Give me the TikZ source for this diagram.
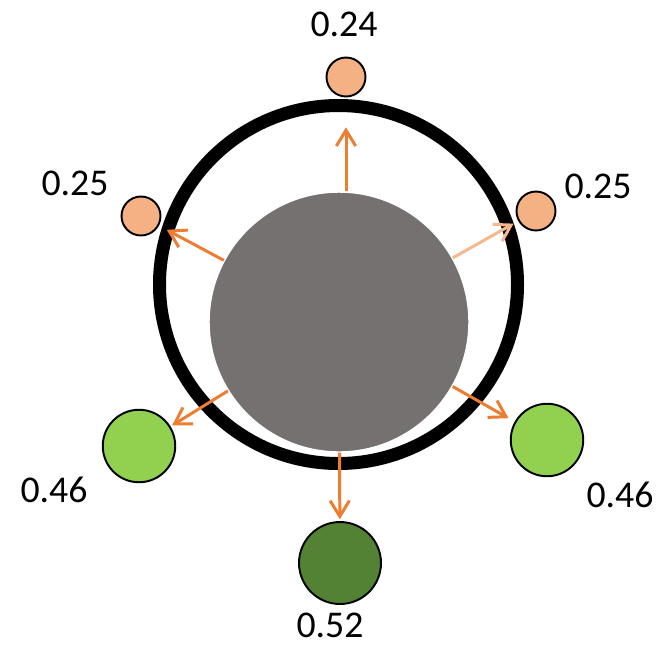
\documentclass[tikz,border=0pt]{standalone}
\usepackage{fontspec}
\setmainfont{Carlito}
\usetikzlibrary{arrows.meta}
\definecolor{shell}{HTML}{000000}
\definecolor{coregray}{HTML}{767171}
\definecolor{flow}{HTML}{ED7D31}
\definecolor{lowv}{HTML}{F4B183}
\definecolor{midv}{HTML}{92D050}
\definecolor{highv}{HTML}{548235}

\begin{document}
\begin{tikzpicture}[x=0.02cm,y=-0.02cm,
  ring/.style={draw=shell,line width=7.4pt},
  core/.style={circle,fill=coregray,draw=white,line width=0.8pt,inner sep=0pt,minimum size=5.2cm},
  site/.style={circle,draw=black,line width=1.1pt,inner sep=0pt},
  lowsite/.style={site,fill=lowv,minimum size=0.78cm},
  midsite/.style={site,fill=midv,minimum size=1.45cm},
  highsite/.style={site,fill=highv,minimum size=1.64cm},
  flowarrow/.style={-{Straight Barb[length=9pt,width=11pt]},line width=1.7pt,flow},
  val/.style={font=\fontsize{21.5}{26}\selectfont,inner sep=0pt}]
  \useasboundingbox (0,0) rectangle (665,646);

  % ===== shell and core =====
  \draw[ring] (338.5,284.5) circle[radius=179];
  \node[core] (core) at (339,322) {};

  % ===== sites =====
  \node[lowsite] (top) at (346,77) {};
  \node[lowsite] (ul) at (141,216) {};
  \node[lowsite] (ur) at (536,211) {};
  \node[midsite] (ll) at (139,446) {};
  \node[midsite] (lr) at (547,440) {};
  \node[highsite] (bot) at (340,563) {};

  % ===== flows =====
  \draw[flowarrow,shorten >=17pt] (top |- core.north) -- (top);
  \draw[flowarrow,shorten >=5pt] (core) -- (ul);
  \draw[flowarrow,flow!55!white,shorten >=3pt] (core) -- (ur);
  \draw[flowarrow,shorten >=1pt] (core) -- (ll);
  \draw[flowarrow,shorten >=4pt] (core) -- (lr);
  \draw[flowarrow,shorten >=1pt] (core) -- (bot);

  % ===== values =====
  \node[val] (vtop) at (344,24) {0.24};
  \node[val] (vul) at (75,183) {0.25};
  \node[val] (vur) at (598,186) {0.25};
  \node[val] (vll) at (54,490) {0.46};
  \node[val] (vlr) at (620,495) {0.46};
  \node[val] (vbot) at (330,625) {0.52};
\end{tikzpicture}
\end{document}
